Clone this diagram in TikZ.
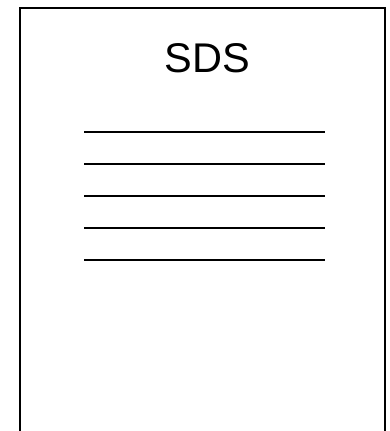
\documentclass[tikz,border=0pt]{standalone}
\usepackage{fontspec}
\setmainfont{Liberation Sans}
\begin{document}
\begin{tikzpicture}[x=1pt,y=-1pt,
  docline/.style={line width=2pt,black},
  docframe/.style={line width=2.2pt,black}]
\useasboundingbox (0,0) rectangle (390,431);
\clip (0,0) rectangle (390,431);
\fill[white] (0,0) rectangle (390,431);
\draw[docframe] (20,8) rectangle (385,445);
\node[inner sep=0pt,anchor=base,font=\fontsize{41.5pt}{48pt}\selectfont] (title) at (207.5,72) {SDS};
\foreach \y [count=\i] in {131.5,163.5,195.5,227.5,259.5}{
  \coordinate (l\i a) at (84,\y);
  \coordinate (l\i b) at (324.5,\y);
  \draw[docline] (l\i a) -- (l\i b);
}
\end{tikzpicture}
\end{document}
